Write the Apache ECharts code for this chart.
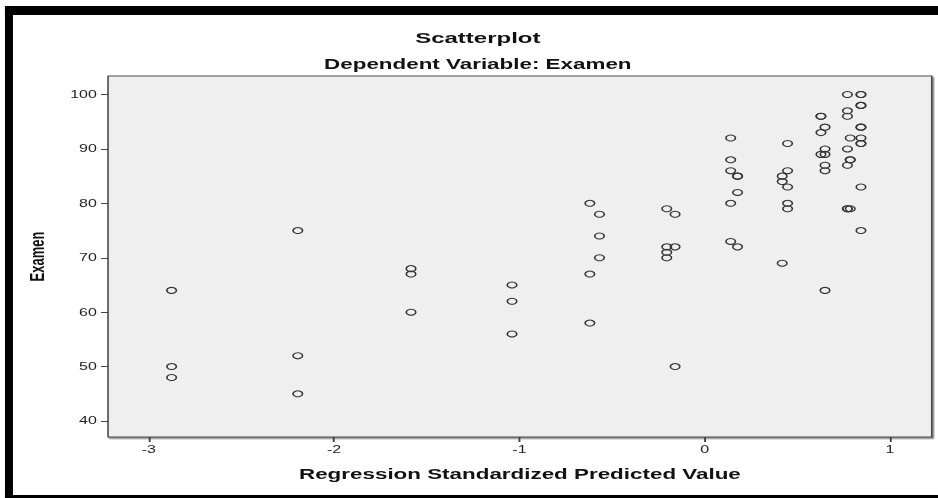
<!DOCTYPE html>
<html>
<head>
<meta charset="utf-8">
<script src="https://cdn.jsdelivr.net/npm/echarts@6/dist/echarts.min.js"></script>
<style>
  html, body { margin: 0; padding: 0; background: #ffffff; overflow: hidden; }
  #wrap { width: 938px; height: 498px; overflow: hidden; position: relative; }
  /* the chart is drawn on a narrower canvas and widened horizontally */
  #chart { width: 586px; height: 498px; transform-origin: 0 0; position: absolute; left: 0; top: 0; }
</style>
</head>
<body>
<div id="wrap"><div id="chart"></div></div>
<script>
// Regression standardized predicted value (x) for each case
const predicted = [
  -2.877, -2.877, -2.877,
  -2.196, -2.196, -2.196,
  -1.585, -1.585, -1.585,
  -1.04, -1.04, -1.04,
  -0.62, -0.62, -0.62,
  -0.568, -0.568, -0.568,
  -0.205, -0.205, -0.205, -0.205,
  -0.16, -0.16, -0.16,
  0.14, 0.14, 0.14, 0.14, 0.14,
  0.177, 0.177, 0.177, 0.177,
  0.418, 0.418, 0.418,
  0.447, 0.447, 0.447, 0.447, 0.447,
  0.627, 0.627, 0.627, 0.627,
  0.649, 0.649, 0.649, 0.649, 0.649, 0.649,
  0.77, 0.77, 0.77, 0.77, 0.77, 0.77, 0.77,
  0.785, 0.785, 0.785, 0.785,
  0.843, 0.843, 0.843, 0.843, 0.843, 0.843, 0.843, 0.843, 0.843, 0.843, 0.843
];
// Examen score (y) for each case
const examen = [
  64, 50, 48,
  75, 52, 45,
  68, 67, 60,
  65, 62, 56,
  80, 67, 58,
  78, 74, 70,
  79, 72, 71, 70,
  78, 72, 50,
  92, 88, 86, 80, 73,
  85, 85, 82, 72,
  85, 84, 69,
  91, 86, 83, 80, 79,
  96, 96, 93, 89,
  94, 90, 89, 87, 86, 64,
  100, 97, 96, 90, 87, 79, 79,
  92, 88, 88, 79,
  100, 100, 98, 98, 94, 94, 92, 91, 91, 83, 75
];
const xTicks = [-3, -2, -1, 0, 1];
const yTicks = [40, 50, 60, 70, 80, 90, 100];

const chartTitle = 'Scatterplot';
const chartSubtitle = 'Dependent Variable: Examen';
const xName = 'Regression Standardized Predicted Value';
const yName = 'Examen';

const BASE_W = 586;
const SX = 938 / BASE_W;
const el = document.getElementById('chart');
el.style.transform = 'scaleX(' + SX + ')';

const FONT = '"Liberation Sans", Arial, Helvetica, sans-serif';
const points = predicted.map((v, i) => [v, examen[i]]);

const chart = echarts.init(el, null, { renderer: 'svg', width: BASE_W, height: 498 });
chart.setOption({
  animation: false,
  backgroundColor: '#ffffff',
  title: [
    { text: chartTitle, left: 293.5, top: 25, textAlign: 'center',
      textStyle: { fontFamily: FONT, fontSize: 15, fontWeight: 'bold', color: '#111' } },
    { text: chartSubtitle, left: 293.5, top: 52, textAlign: 'center',
      textStyle: { fontFamily: FONT, fontSize: 14, fontWeight: 'bold', color: '#111' } }
  ],
  grid: {
    left: 67.5, right: 3.9, top: 76, bottom: 61,
    show: true, backgroundColor: '#efefef', borderColor: '#4a4a4a', borderWidth: 1,
    shadowColor: '#8a8a8a', shadowOffsetX: 1, shadowOffsetY: 1.5, shadowBlur: 0
  },
  xAxis: {
    type: 'value', min: -3.22, max: 1.225,
    name: xName, nameLocation: 'middle', nameGap: 30,
    nameTextStyle: { fontFamily: FONT, fontSize: 14, fontWeight: 'bold', color: '#111' },
    splitLine: { show: false },
    axisLine: { show: false, onZero: false },
    axisTick: { show: true, inside: false, length: 5, customValues: xTicks,
      lineStyle: { color: '#444', width: 1.2 } },
    axisLabel: { fontFamily: FONT, fontSize: 10, color: '#222', margin: 8,
      customValues: xTicks, showMinLabel: true, showMaxLabel: true }
  },
  yAxis: {
    type: 'value', min: 37.06, max: 103.4,
    name: yName, nameLocation: 'middle', nameGap: 38, nameRotate: 90,
    nameTextStyle: { fontFamily: FONT, fontSize: 13, fontWeight: 'bold', color: '#111' },
    splitLine: { show: false },
    axisLine: { show: false, onZero: false },
    axisTick: { show: true, inside: false, length: 4.4, customValues: yTicks,
      lineStyle: { color: '#444', width: 1 } },
    axisLabel: { fontFamily: FONT, fontSize: 10, color: '#222', margin: 7,
      customValues: yTicks }
  },
  graphic: [
    { type: 'rect', shape: { x: 3.1, y: 6, width: BASE_W, height: 9 }, style: { fill: '#000' }, z: 100 },
    { type: 'rect', shape: { x: 3.1, y: 6, width: 5, height: 500 }, style: { fill: '#000' }, z: 100 },
    { type: 'rect', shape: { x: 3.1, y: 495, width: BASE_W, height: 5 }, style: { fill: '#000' }, z: 100 }
  ],
  series: [{
    type: 'scatter',
    data: points,
    symbol: 'circle',
    symbolSize: 6,
    itemStyle: { color: 'rgba(0,0,0,0)', borderColor: '#333', borderWidth: 1, opacity: 1 }
  }]
});
</script>
</body>
</html>
